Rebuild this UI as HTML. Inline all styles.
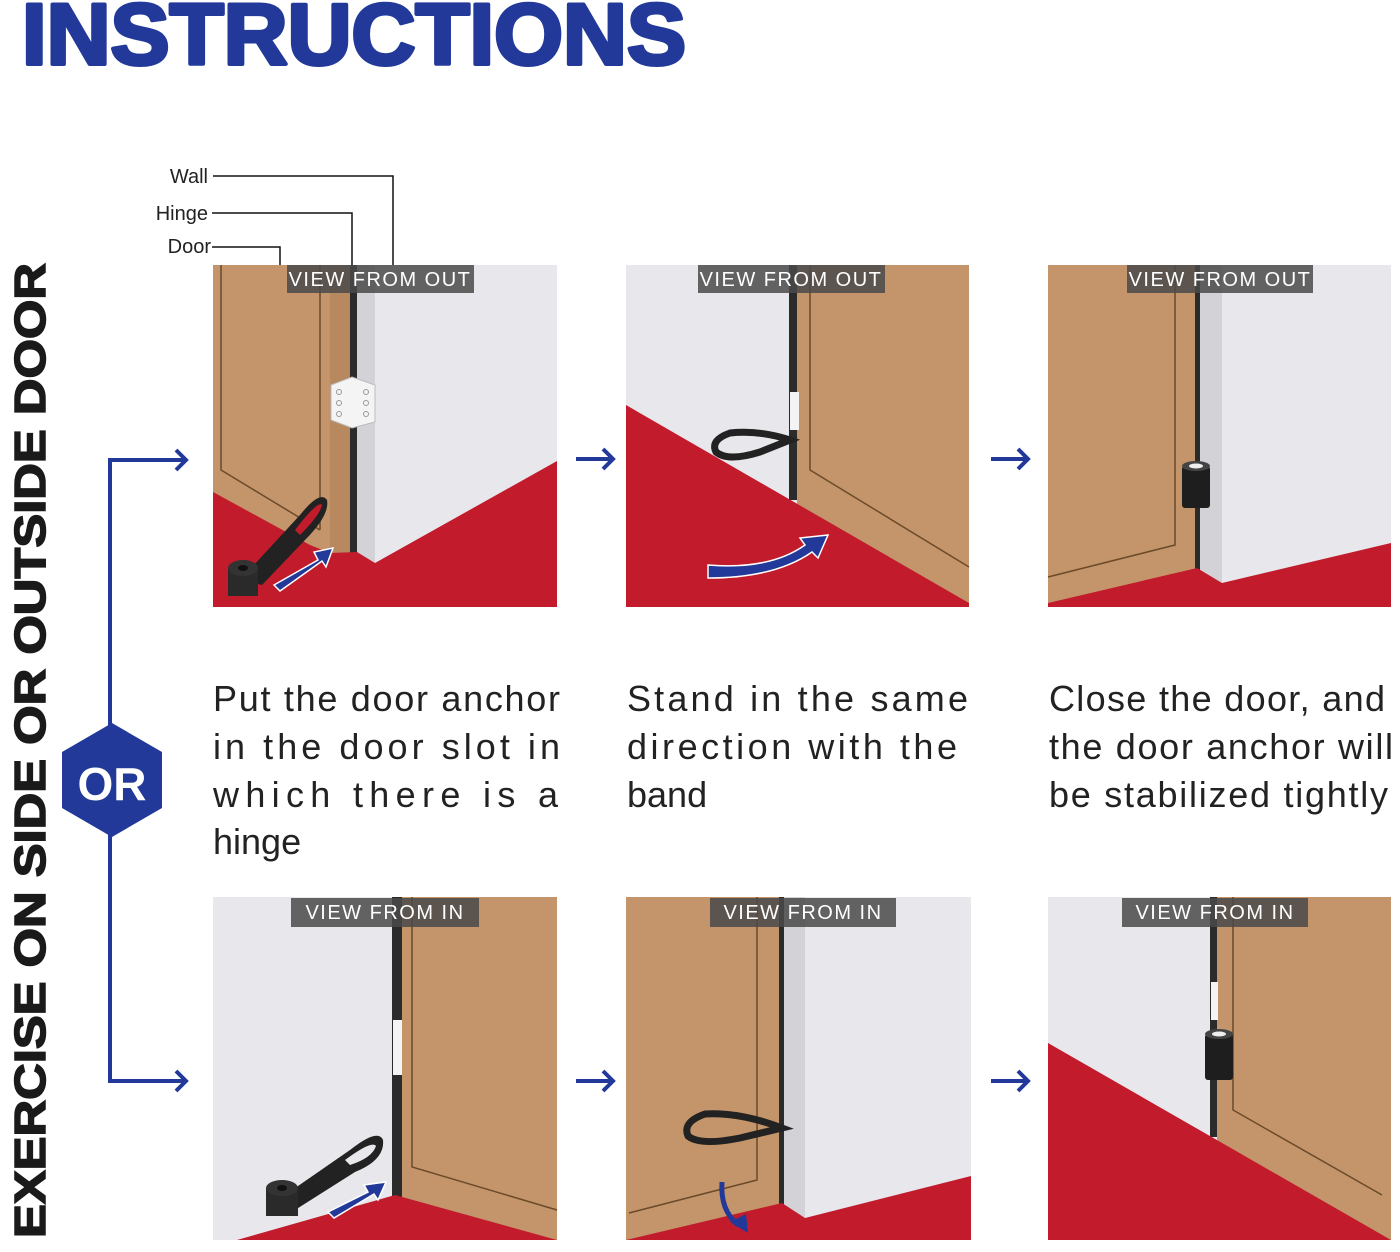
<!DOCTYPE html>
<html><head><meta charset="utf-8"><style>
html,body{margin:0;padding:0;background:#fff;}
svg{display:block;}
text{font-family:"Liberation Sans",sans-serif;}
.lb{font-size:20px;fill:#fff;letter-spacing:1.5px;}
.p{font-size:36px;fill:#222;}
.s{font-size:20px;fill:#222;}
</style></head><body>
<svg width="1400" height="1252" viewBox="0 0 1400 1252" xmlns="http://www.w3.org/2000/svg">
<defs>
<marker id="ah" markerWidth="16" markerHeight="24" refX="12" refY="12" orient="auto" markerUnits="userSpaceOnUse"><path d="M2,2 L12,12 L2,22" fill="none" stroke="#22399a" stroke-width="4"/></marker>
</defs>
<text x="22" y="64" font-size="86" font-weight="bold" fill="#22399a" stroke="#22399a" stroke-width="4" stroke-linejoin="round" textLength="664" lengthAdjust="spacingAndGlyphs">INSTRUCTIONS</text>

<!-- vertical side text -->
<text transform="translate(45,1238) rotate(-90)" font-size="44" font-weight="bold" fill="#1a1a1a" stroke="#1a1a1a" stroke-width="1.5" textLength="975" lengthAdjust="spacingAndGlyphs">EXERCISE ON SIDE OR OUTSIDE DOOR</text>

<!-- connector -->
<path d="M110,460 V1081" stroke="#22399a" stroke-width="4" fill="none"/>
<path d="M108,460 H186" stroke="#22399a" stroke-width="4" fill="none" marker-end="url(#ah)"/>
<path d="M108,1081 H186" stroke="#22399a" stroke-width="4" fill="none" marker-end="url(#ah)"/>
<polygon points="112,723 162,752 162,808 112,837 62,808 62,752" fill="#22399a"/>
<text x="112" y="800" font-size="46" font-weight="bold" fill="#fff" text-anchor="middle">OR</text>

<!-- between arrows -->
<g stroke="#22399a" stroke-width="4" fill="none">
<path d="M576,459 H613" marker-end="url(#ah)"/>
<path d="M991,459 H1028" marker-end="url(#ah)"/>
<path d="M576,1081 H613" marker-end="url(#ah)"/>
<path d="M991,1081 H1028" marker-end="url(#ah)"/>
</g>

<!-- labels wall/hinge/door -->
<text x="208" y="183" class="s" text-anchor="end">Wall</text>
<text x="208" y="220" class="s" text-anchor="end">Hinge</text>
<text x="211" y="253" class="s" text-anchor="end">Door</text>
<g stroke="#111" stroke-width="1.5" fill="none">
<path d="M213,176 H393 V315"/>
<path d="M212,213 H352 V300"/>
<path d="M212,247 H280 V315"/>
</g>

<!-- PANEL 1 -->
<g>
<rect x="213" y="265" width="344" height="342" fill="#e8e8ec"/>
<rect x="213" y="265" width="117" height="300" fill="#c4956a"/>
<rect x="330" y="265" width="20" height="295" fill="#b8895e"/>
<rect x="350" y="265" width="7" height="292" fill="#2b2b2b"/>
<polygon points="357,265 375,265 375,563 357,552" fill="#d2d2d7"/>
<path d="M221,265 V470 L320,530" stroke="#6b4a2a" stroke-width="1.5" fill="none"/>
<path d="M320,265 V530" stroke="#6b4a2a" stroke-width="1.5" fill="none"/>
<polygon points="213,492 310,545 330,553 357,552 375,563 557,461 557,607 213,607" fill="#c21b2c"/>
<polygon points="331,385 352,377 375,385 375,422 352,428 331,420" fill="#f4f4f4" stroke="#bbb"/>
<g fill="none" stroke="#999" stroke-width="1"><circle cx="339" cy="392" r="2.5"/><circle cx="339" cy="403" r="2.5"/><circle cx="339" cy="414" r="2.5"/><circle cx="366" cy="392" r="2.5"/><circle cx="366" cy="403" r="2.5"/><circle cx="366" cy="414" r="2.5"/></g>
<path d="M240,580 L300,515 Q320,490 327,500 Q330,515 305,540 L262,585 Z" fill="#222"/>
<path d="M295,530 Q318,500 322,505 Q320,515 300,535 Z" fill="#c21b2c"/>
<rect x="228" y="568" width="30" height="28" fill="#2a2a2a"/>
<ellipse cx="243" cy="568" rx="15" ry="8" fill="#333"/>
<ellipse cx="243" cy="568" rx="5" ry="3" fill="#111"/>
<path d="M274,585 L318,560 L314,552 L333,548 L326,567 L322,561 L280,591 Z" fill="#22399a" stroke="#fff" stroke-width="1.5"/>
<rect x="287" y="265" width="187" height="28" fill="#4a4a4a" opacity="0.85"/>
<text x="380" y="286" class="lb" text-anchor="middle">VIEW FROM OUT</text>
</g>

<!-- PANEL 2 -->
<g>
<rect x="626" y="265" width="343" height="342" fill="#e8e8ec"/>
<rect x="797" y="265" width="172" height="342" fill="#c4956a"/>
<path d="M810,265 V470 L969,567" stroke="#6b4a2a" stroke-width="1.5" fill="none"/>
<rect x="789" y="265" width="8" height="235" fill="#2b2b2b"/>
<rect x="790" y="392" width="9" height="38" fill="#f4f4f4"/>
<polygon points="626,405 969,603 969,607 626,607" fill="#c21b2c"/>
<path d="M790,440 Q760,430 730,433 Q710,440 716,452 Q728,462 760,452 Z" fill="none" stroke="#222" stroke-width="7"/>
<path d="M708,565 Q770,570 805,545 L800,538 L828,535 L818,558 L812,552 Q775,578 708,578 Z" fill="#22399a" stroke="#fff" stroke-width="1.5"/>
<rect x="698" y="265" width="187" height="28" fill="#4a4a4a" opacity="0.85"/>
<text x="791" y="286" class="lb" text-anchor="middle">VIEW FROM OUT</text>
</g>

<!-- PANEL 3 -->
<g>
<rect x="1048" y="265" width="343" height="342" fill="#e8e8ec"/>
<rect x="1048" y="265" width="149" height="340" fill="#c4956a"/>
<path d="M1175,265 V545 L1048,577" stroke="#6b4a2a" stroke-width="1.5" fill="none"/>
<rect x="1195" y="265" width="5" height="305" fill="#2b2b2b"/>
<polygon points="1200,265 1222,265 1222,583 1200,570" fill="#d2d2d7"/>
<polygon points="1048,603 1197,568 1222,583 1391,543 1391,607 1048,607" fill="#c21b2c"/>
<rect x="1182" y="466" width="28" height="42" rx="3" fill="#1e1e1e"/>
<ellipse cx="1196" cy="466" rx="14" ry="5" fill="#444"/>
<ellipse cx="1196" cy="466" rx="7" ry="2.5" fill="#eee"/>
<rect x="1127" y="265" width="186" height="28" fill="#4a4a4a" opacity="0.85"/>
<text x="1220" y="286" class="lb" text-anchor="middle">VIEW FROM OUT</text>
</g>

<!-- texts -->
<text class="p" x="213" y="711" textLength="347">Put the door anchor</text>
<text class="p" x="213" y="759" textLength="347">in the door slot in</text>
<text class="p" x="213" y="807" textLength="345" lengthAdjust="spacing">which there is a</text>
<text class="p" x="213" y="854">hinge</text>
<text class="p" x="627" y="711" textLength="341">Stand in the same</text>
<text class="p" x="627" y="759" textLength="330">direction with the</text>
<text class="p" x="627" y="807">band</text>
<text class="p" x="1049" y="711" textLength="336">Close the door, and</text>
<text class="p" x="1049" y="759" textLength="344">the door anchor will</text>
<text class="p" x="1049" y="807" textLength="339">be stabilized tightly</text>

<!-- PANEL 4 -->
<g>
<rect x="213" y="897" width="344" height="343" fill="#e8e8ec"/>
<rect x="402" y="897" width="155" height="343" fill="#c4956a"/>
<path d="M412,897 V1167 L557,1210" stroke="#6b4a2a" stroke-width="1.5" fill="none"/>
<rect x="392" y="897" width="10" height="300" fill="#2b2b2b"/>
<rect x="393" y="1020" width="9" height="55" fill="#f4f4f4"/>
<polygon points="237,1240 395,1195 557,1240" fill="#c21b2c"/>
<path d="M285,1195 L350,1150 Q378,1128 383,1140 Q385,1160 355,1172 L295,1210 Z" fill="#222"/>
<path d="M345,1160 Q372,1140 376,1146 Q372,1158 350,1165 Z" fill="#e8e8ec"/>
<rect x="266" y="1188" width="32" height="28" fill="#2a2a2a"/>
<ellipse cx="282" cy="1188" rx="16" ry="8" fill="#333"/>
<ellipse cx="282" cy="1188" rx="5" ry="3" fill="#111"/>
<path d="M328,1212 L368,1192 L364,1185 L386,1182 L378,1200 L374,1194 L334,1218 Z" fill="#22399a" stroke="#fff" stroke-width="1.5"/>
<rect x="291" y="898" width="188" height="29" fill="#4a4a4a" opacity="0.85"/>
<text x="385" y="919" class="lb" text-anchor="middle">VIEW FROM IN</text>
</g>

<!-- PANEL 5 -->
<g>
<rect x="626" y="897" width="345" height="343" fill="#e8e8ec"/>
<rect x="626" y="897" width="156" height="343" fill="#c4956a"/>
<path d="M757,897 V1180 L629,1213" stroke="#6b4a2a" stroke-width="1.5" fill="none"/>
<rect x="779" y="897" width="5" height="308" fill="#2b2b2b"/>
<polygon points="784,897 805,897 805,1218 784,1205" fill="#d2d2d7"/>
<polygon points="626,1240 782,1203 805,1218 971,1176 971,1240" fill="#c21b2c"/>
<path d="M782,1128 Q740,1112 705,1114 Q682,1122 688,1136 Q700,1146 740,1138 Z" fill="none" stroke="#222" stroke-width="7"/>
<path d="M722,1182 Q720,1210 738,1225" stroke="#22399a" stroke-width="5" fill="none"/>
<path d="M730,1222 L748,1233 L746,1214 Z" fill="#22399a"/>
<rect x="710" y="898" width="186" height="29" fill="#4a4a4a" opacity="0.85"/>
<text x="803" y="919" class="lb" text-anchor="middle">VIEW FROM IN</text>
</g>

<!-- PANEL 6 -->
<g>
<rect x="1048" y="897" width="343" height="343" fill="#e8e8ec"/>
<rect x="1217" y="897" width="174" height="343" fill="#c4956a"/>
<path d="M1233,897 V1110 L1382,1195" stroke="#6b4a2a" stroke-width="1.5" fill="none"/>
<rect x="1210" y="897" width="7" height="240" fill="#2b2b2b"/>
<rect x="1211" y="982" width="7" height="38" fill="#f4f4f4"/>
<polygon points="1048,1043 1391,1240 1048,1240" fill="#c21b2c"/>
<rect x="1205" y="1034" width="28" height="46" rx="3" fill="#1e1e1e"/>
<ellipse cx="1219" cy="1034" rx="14" ry="5" fill="#444"/>
<ellipse cx="1219" cy="1034" rx="7" ry="2.5" fill="#eee"/>
<rect x="1122" y="898" width="186" height="29" fill="#4a4a4a" opacity="0.85"/>
<text x="1215" y="919" class="lb" text-anchor="middle">VIEW FROM IN</text>
</g>
</svg>
</body></html>
